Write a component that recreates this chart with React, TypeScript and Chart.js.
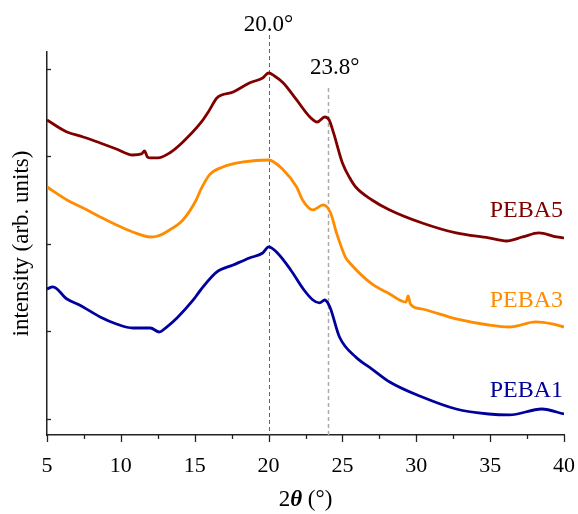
import React, { useEffect, useRef } from "react";
import { Chart, registerables } from "chart.js";

Chart.register(...registerables);

// ---- data ----
const peba5X = [5.0, 6.35, 7.45, 8.6, 9.7, 10.8, 11.4, 11.6, 11.8, 12.0, 12.5, 13.3, 14.2, 15.4, 16.0, 16.5, 17.6, 18.7, 19.6, 20.0, 20.4, 21.0, 21.9, 22.8, 23.3, 23.8, 24.1, 24.4, 25.0, 25.5, 25.9, 27.0, 28.2, 30.4, 32.7, 34.9, 36.1, 37.2, 38.3, 39.5, 40.0];
const peba5Y = [3.417, 3.28, 3.223, 3.154, 3.086, 3.017, 3.029, 3.063, 2.994, 2.983, 2.983, 3.04, 3.166, 3.383, 3.531, 3.669, 3.737, 3.84, 3.897, 3.954, 3.92, 3.84, 3.646, 3.451, 3.394, 3.451, 3.417, 3.269, 2.926, 2.754, 2.651, 2.503, 2.389, 2.24, 2.126, 2.069, 2.034, 2.08, 2.126, 2.08, 2.069];

const peba3X = [5.0, 6.35, 7.45, 8.6, 9.7, 10.8, 12.0, 12.5, 13.3, 14.2, 15.1, 15.4, 16.0, 16.9, 18.3, 20.0, 21.0, 21.9, 22.3, 23.0, 23.7, 24.2, 24.6, 25.2, 25.5, 27.0, 28.2, 29.3, 29.45, 29.6, 30.4, 32.7, 34.9, 36.3, 38.1, 39.2, 40.0];
const peba3Y = [2.651, 2.503, 2.411, 2.309, 2.217, 2.137, 2.08, 2.091, 2.16, 2.274, 2.503, 2.617, 2.789, 2.88, 2.937, 2.96, 2.846, 2.651, 2.503, 2.389, 2.446, 2.354, 2.126, 1.851, 1.783, 1.543, 1.429, 1.337, 1.406, 1.314, 1.257, 1.143, 1.074, 1.051, 1.109, 1.086, 1.051];

const peba1X = [5.0, 5.4, 6.35, 7.2, 8.6, 9.7, 10.8, 12.0, 12.6, 13.1, 13.8, 14.9, 15.4, 16.5, 17.6, 18.7, 19.6, 20.0, 20.6, 21.5, 22.4, 23.0, 23.45, 23.8, 24.15, 24.8, 25.9, 27.0, 28.2, 30.4, 32.7, 34.9, 36.3, 38.5, 40.0];
const peba1Y = [1.486, 1.509, 1.371, 1.303, 1.166, 1.086, 1.04, 1.04, 0.994, 1.051, 1.154, 1.36, 1.474, 1.68, 1.76, 1.84, 1.897, 1.966, 1.897, 1.703, 1.474, 1.36, 1.326, 1.36, 1.28, 0.937, 0.709, 0.571, 0.423, 0.251, 0.114, 0.057, 0.046, 0.114, 0.057];

const seriesNames = ["PEBA5", "PEBA3", "PEBA1"];
const seriesColors = ["#800000", "#ff8c00", "#00009c"];

const xTickValues = [5, 7.5, 10, 12.5, 15, 17.5, 20, 22.5, 25, 27.5, 30, 32.5, 35, 37.5, 40];
const yTickValues = [0, 1, 2, 3, 4];

const refLineValues = [20.0, 24.0];
const refLineLabels = ["20.0°", "23.8°"];

const yAxisTitle = "intensity (arb. units)";

const FONT = "'Liberation Serif', Tinos, 'Times New Roman', Times, serif";

export default function App() {
  const ref = useRef<HTMLCanvasElement>(null);

  useEffect(() => {
    let chart: any = null;
    let cancelled = false;

    const overlay = {
      id: "overlay",
      beforeDatasetsDraw(c: any) {
        const { ctx, scales } = c;
        const xs = scales.x;
        const area = c.chartArea;
        const tops = [35, 88];
        const styles = [
          { color: "#666", width: 1 },
          { color: "#aaa", width: 1.5 },
        ];
        ctx.save();
        refLineValues.forEach((v, i) => {
          const px = Math.round(xs.getPixelForValue(v)) + 0.5;
          ctx.beginPath();
          ctx.setLineDash([4, 3]);
          ctx.strokeStyle = styles[i].color;
          ctx.lineWidth = styles[i].width;
          ctx.moveTo(px, tops[i]);
          ctx.lineTo(px, area.bottom);
          ctx.stroke();
        });
        ctx.restore();
      },
      afterDraw(c: any) {
        const { ctx, scales } = c;
        const xs = scales.x;
        const ys = scales.y;
        const area = c.chartArea;
        ctx.save();
        ctx.setLineDash([]);
        ctx.strokeStyle = "#222";
        ctx.lineWidth = 1.3;
        xTickValues.forEach((v) => {
          const px = Math.round(xs.getPixelForValue(v)) + 0.5;
          const len = v % 5 === 0 ? 7 : 4;
          ctx.beginPath();
          ctx.moveTo(px, area.bottom);
          ctx.lineTo(px, area.bottom + len);
          ctx.stroke();
        });
        yTickValues.forEach((v) => {
          const py = Math.round(ys.getPixelForValue(v)) + 0.5;
          ctx.beginPath();
          ctx.moveTo(area.left, py);
          ctx.lineTo(area.left + 4, py);
          ctx.stroke();
        });

        ctx.fillStyle = "#000";
        ctx.font = `23px ${FONT}`;
        ctx.textAlign = "center";
        ctx.textBaseline = "alphabetic";
        const labelOffsets = [0, 7];
        const labelBaselines = [31, 74];
        refLineValues.forEach((v, i) => {
          const px = xs.getPixelForValue(v) + labelOffsets[i];
          ctx.fillText(refLineLabels[i], px, labelBaselines[i]);
        });

        ctx.font = `24px ${FONT}`;
        ctx.textAlign = "right";
        const seriesBaselines = [217, 307, 397];
        seriesNames.forEach((name, i) => {
          ctx.fillStyle = seriesColors[i];
          ctx.fillText(name, area.right - 1, seriesBaselines[i]);
        });

        const parts = [
          { t: "2", f: `23px ${FONT}` },
          { t: "θ", f: `italic bold 23px ${FONT}` },
          { t: " (°)", f: `23px ${FONT}` },
        ];
        let total = 0;
        const widths = parts.map((p) => {
          ctx.font = p.f;
          const w = ctx.measureText(p.t).width;
          total += w;
          return w;
        });
        let cx = (area.left + area.right) / 2 - total / 2;
        ctx.fillStyle = "#000";
        ctx.textAlign = "left";
        parts.forEach((p, i) => {
          ctx.font = p.f;
          ctx.fillText(p.t, cx, 506);
          cx += widths[i];
        });
        ctx.restore();
      },
    };

    const mk = (xsArr: number[], ysArr: number[]) => xsArr.map((x, i) => ({ x, y: ysArr[i] }));
    const seriesData = [mk(peba5X, peba5Y), mk(peba3X, peba3Y), mk(peba1X, peba1Y)];

    const build = () => {
      if (cancelled || !ref.current) return;
      chart = new Chart(ref.current, {
        type: "line",
        data: {
          datasets: seriesNames.map((name, i) => ({
            label: name,
            data: seriesData[i],
            borderColor: seriesColors[i],
            backgroundColor: seriesColors[i],
            borderWidth: 2.8,
            pointRadius: 0,
            fill: false,
            cubicInterpolationMode: "monotone" as const,
          })),
        },
        options: {
          animation: false,
          responsive: false,
          layout: { padding: { top: 52, right: 14, left: 0, bottom: 0 } },
          plugins: { legend: { display: false }, tooltip: { enabled: false } },
          scales: {
            x: {
              type: "linear",
              min: 5,
              max: 40,
              afterBuildTicks: (s: any) => {
                s.ticks = xTickValues.map((v) => ({ value: v }));
              },
              afterFit: (s: any) => {
                s.height = 79;
                s.paddingLeft = 0;
                s.paddingRight = 0;
              },
              ticks: {
                autoSkip: false,
                maxRotation: 0,
                padding: 18,
                color: "#000",
                font: { family: FONT, size: 22 },
                callback: (v: any) => (Number(v) % 5 === 0 ? String(v) : ""),
              },
              grid: { display: true, drawOnChartArea: false, drawTicks: false },
              border: { display: true, color: "#222", width: 1.5 },
            },
            y: {
              type: "linear",
              min: -0.183,
              max: 4.194,
              afterBuildTicks: (s: any) => {
                s.ticks = yTickValues.map((v) => ({ value: v }));
              },
              afterFit: (s: any) => {
                s.width = 47;
                s.paddingTop = 0;
                s.paddingBottom = 0;
              },
              ticks: { display: false },
              grid: { display: true, drawOnChartArea: false, drawTicks: false },
              border: { display: true, color: "#222", width: 1.5 },
              title: {
                display: true,
                text: yAxisTitle,
                color: "#000",
                font: { family: FONT, size: 23 },
                padding: { top: 8, bottom: 0 },
              },
            },
          },
        },
        plugins: [overlay],
      });
    };

    const fonts: any = (document as any).fonts;
    if (fonts && fonts.load) {
      Promise.all([
        fonts.load(`22px 'Liberation Serif'`, "20.0° intensity"),
        fonts.load(`italic bold 22px 'Liberation Serif'`, "θ"),
      ])
        .catch(() => null)
        .then(build);
    } else {
      build();
    }

    return () => {
      cancelled = true;
      if (chart) chart.destroy();
    };
  }, []);

  return (
    <div style={{ position: "fixed", left: 0, top: 0, width: 578, height: 514, background: "#fff" }}>
      <canvas ref={ref} width={578} height={514} style={{ width: 578, height: 514, display: "block" }} />
    </div>
  );
}
